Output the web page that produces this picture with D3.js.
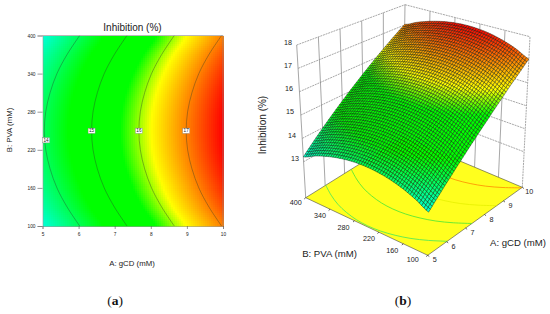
<!DOCTYPE html>
<html><head><meta charset="utf-8">
<script src="https://cdn.jsdelivr.net/npm/d3@7"></script>
<style>html,body{margin:0;background:#fff}svg{display:block}text{font-family:"Liberation Sans",Arial,sans-serif;fill:#222}</style>
</head><body><svg id="c" width="550" height="314"></svg>
<script>
const chartTitle = "Inhibition (%)";
const aTicks = [5,6,7,8,9,10];
const bTicks = [100,160,220,280,340,400];
const zTicks = [13,14,15,16,17,18];
// Response read along A at the centre of the B range
const aNodes = [5,6,7,8,9,10];
const zAlongA = [13.96,14.73,15.49,16.25,17.02,17.78];
// Fall in response away from the centre of the B range
const bNodes = [100,130,160,190,220,250,280,310,340,370,400];
const dropAlongB = [0.75,0.48,0.27,0.12,0.03,0,0.03,0.12,0.27,0.48,0.75];
// Contours: A position at each bNodes value
const contourLevels = [14,15,16,17];
const contour14 = [6.03,5.68,5.40,5.21,5.09,5.05,5.09,5.21,5.40,5.68,6.03];
const contour15 = [7.34,6.99,6.71,6.52,6.40,6.36,6.40,6.52,6.71,6.99,7.34];
const contour16 = [8.65,8.30,8.02,7.83,7.71,7.67,7.71,7.83,8.02,8.30,8.65];
const contour17 = [9.96,9.61,9.33,9.14,9.02,8.98,9.02,9.14,9.33,9.61,9.96];
const contours = [contour14,contour15,contour16,contour17];
const labelB = [235,250,250,250];

const svg = d3.select("#c");
const zOfA = d3.scaleLinear().domain(aNodes).range(zAlongA);
function dropOfB(b){ // smooth reading between bNodes (Catmull-Rom)
  const n=bNodes.length, t=(b-bNodes[0])/(bNodes[1]-bNodes[0]);
  const i=Math.max(0,Math.min(n-2,Math.floor(t))), f=t-i;
  const p=k=>dropAlongB[Math.max(0,Math.min(n-1,k))];
  const p0=p(i-1),p1=p(i),p2=p(i+1),p3=p(i+2);
  return .5*(2*p1+(p2-p0)*f+(2*p0-5*p1+4*p2-p3)*f*f+(3*p1-p0-3*p2+p3)*f*f*f);
}
const field=(a,b)=>zOfA(a)-dropOfB(b);
const color=d3.scaleLinear()
  .domain([13.1,14.5,15.6,16.25,17.78])
  .range(["#00ffe8","#00ff00","#00ff00","#ffff00","#ff0000"])
  .clamp(true);

/* ---------- (a) contour map ---------- */
const x=d3.scaleLinear().domain([5,10]).range([42.5,223]);
const y=d3.scaleLinear().domain([100,400]).range([226,35.5]);
const nx=90,ny=95;
const cols=d3.range(nx),rows=d3.range(ny);
const heat=svg.append("g").attr("shape-rendering","crispEdges");
rows.forEach(j=>{
  const b0=100+300*j/ny,b1=100+300*(j+1)/ny;
  heat.selectAll(null).data(cols).join("rect")
    .attr("x",i=>x(5+5*i/nx)).attr("width",(223-42.5)/nx+0.6)
    .attr("y",y(b1)).attr("height",y(b0)-y(b1)+0.6)
    .attr("fill",i=>color(field(5+5*(i+.5)/nx,(b0+b1)/2)));
});
const cLine=d3.line().x(d=>x(d[0])).y(d=>y(d[1])).curve(d3.curveCatmullRom);
contours.forEach(c=>{
  svg.append("path").attr("d",cLine(c.map((a,i)=>[a,bNodes[i]])))
    .attr("fill","none").attr("stroke","#2a3a2a").attr("stroke-width",0.55).attr("stroke-opacity",0.7);
});
const axA=d3.axisBottom(x).tickValues(aTicks).tickSize(3).tickPadding(4).tickFormat(d3.format("d"));
svg.append("g").attr("transform","translate(0,226)").call(axA)
 .call(g=>g.select(".domain").attr("stroke","#999").attr("stroke-width",.6))
 .call(g=>g.selectAll(".tick line").attr("stroke","#555").attr("stroke-width",.6))
 .call(g=>g.selectAll("text").attr("font-size",4.8).attr("fill","#333"));
const axB=d3.axisLeft(y).tickValues(bTicks).tickSize(5).tickPadding(2).tickFormat(d3.format("d"));
svg.append("g").attr("transform","translate(42.5,0)").call(axB)
 .call(g=>g.select(".domain").attr("stroke","#999").attr("stroke-width",.6))
 .call(g=>g.selectAll(".tick line").attr("stroke","#555").attr("stroke-width",.6))
 .call(g=>g.selectAll("text").attr("font-size",4.8).attr("fill","#333"));
svg.append("path").attr("d","M42.5,35.5H223V226").attr("fill","none").attr("stroke","#888").attr("stroke-width",.6);
contourLevels.forEach((lv,k)=>{
  const c=contours[k],bv=labelB[k];
  const av=d3.scaleLinear().domain(bNodes).range(c)(bv)+(k===0?0.03:0);
  const g=svg.append("g").attr("transform",`translate(${x(av)},${y(bv)})`);
  g.append("rect").attr("x",-3.5).attr("y",-2.6).attr("width",7).attr("height",5.2).attr("fill","#fff").attr("stroke","#888").attr("stroke-width",.4);
  g.append("text").attr("text-anchor","middle").attr("y",1.7).attr("font-size",4.6).text(lv);
});
svg.append("text").attr("x",132.5).attr("y",31).attr("text-anchor","middle").attr("font-size",10).text(chartTitle);
svg.append("text").attr("x",132).attr("y",266).attr("text-anchor","middle").attr("font-size",7.8).text("A: gCD (mM)");
svg.append("text").attr("transform","translate(12,130) rotate(-90)").attr("text-anchor","middle").attr("font-size",7.8).text("B: PVA (mM)");

/* ---------- (b) 3-D surface ---------- */
const floorZ=11.46;
const wOf=d3.scaleLinear().domain([floorZ,18]).range([0,1]);
const uOf=d3.scaleLinear().domain([5,10]).range([0,1]);
const vOf=d3.scaleLinear().domain([100,400]).range([0,1]);
// screen corners: [A low/high][B low/high]
const fl={a0b0:[427.7,255.3],a1b0:[522.3,187.3],a0b1:[305.7,197.7],a1b1:[403,137]};
const tp={a0b0:[431,94],a1b0:[530,36.7],a0b1:[296.7,45],a1b1:[405,4.7]};
const bil=(c,u,v,k)=>(1-u)*(1-v)*c.a0b0[k]+u*(1-v)*c.a1b0[k]+(1-u)*v*c.a0b1[k]+u*v*c.a1b1[k];
function P(a,b,z){
  const u=uOf(a),v=vOf(b),w=wOf(z);
  return [0,1].map(k=>bil(fl,u,v,k)*(1-w)+bil(tp,u,v,k)*w);
}
const lineP=d3.line();
const walls=svg.append("g").attr("fill","none").attr("stroke","#8a8a8a").attr("stroke-width",.75);
const seg=(g,p,q,dash)=>g.append("path").attr("d",lineP([p,q])).attr("stroke-dasharray",dash?"2 .8":null);
// back walls
zTicks.forEach(z=>{
  seg(walls,P(5,400,z),P(10,400,z),true);
  seg(walls,P(10,400,z),P(10,100,z),true);
});
aTicks.slice(1,-1).forEach(a=>seg(walls,P(a,400,floorZ),P(a,400,18),false));
bTicks.slice(1,-1).forEach(b=>seg(walls,P(10,b,floorZ),P(10,b,18),false));
seg(walls,P(5,400,floorZ),P(5,400,18));
seg(walls,P(10,400,floorZ),P(10,400,18));
seg(walls,P(10,100,floorZ),P(10,100,18),true);
// floor
const floorPts=[P(5,100,floorZ),P(10,100,floorZ),P(10,400,floorZ),P(5,400,floorZ)];
svg.append("path").attr("d",lineP(floorPts)+"Z").attr("fill","#ffff1e").attr("stroke","#444").attr("stroke-width",.6);
const floorCol=["#45e65a","#45e635","#e6f000","#ff8a00"];
contours.forEach((c,k)=>{
  svg.append("path").attr("d",d3.line().curve(d3.curveCatmullRom)(c.map((a,i)=>P(Math.min(a,10),bNodes[i],floorZ))))
   .attr("fill","none").attr("stroke",floorCol[k]).attr("stroke-width",.8);
});
// ticks on floor edges
bTicks.forEach(b=>{const p=P(5,b,floorZ);svg.append("path").attr("d",lineP([p,[p[0]-1.5,p[1]+1.3]])).attr("stroke","#222").attr("stroke-width",.7);});
aTicks.forEach(a=>{const p=P(a,100,floorZ);svg.append("path").attr("d",lineP([p,[p[0]+1.6,p[1]+1.2]])).attr("stroke","#222").attr("stroke-width",.7);});
// surface mesh, far cells first
const N=54, cells=[];
for(let i=N-1;i>=0;i--)for(let j=N-1;j>=0;j--)cells.push([i,j]);
const aS=i=>5+5*i/N,bS=j=>100+300*j/N;
svg.append("g").attr("stroke","#061206").attr("stroke-width",.4)
 .selectAll("path").data(cells).join("path")
 .attr("d",([i,j])=>lineP([[i,j],[i+1,j],[i+1,j+1],[i,j+1]].map(([p,q])=>P(aS(p),bS(q),field(aS(p),bS(q)))))+"Z")
 .attr("fill",([i,j])=>color(field(aS(i+.5),bS(j+.5))));
// tick labels
const tl=(x0,y0,t,anchor)=>svg.append("text").attr("x",x0).attr("y",y0).attr("text-anchor",anchor||"middle").attr("font-size",7.2).attr("fill","#333").text(t);
const zOff=[[295,160.5],[292,137.5],[290,114],[289,91],[288,68],[288,45]];
zTicks.forEach((z,i)=>tl(zOff[i][0],zOff[i][1],z));
const bOff={400:[-10,7],340:[-10,9],280:[-11,9],220:[-10,9],160:[-11,9],100:[-15,7]};
bTicks.forEach(b=>{const p=P(5,b,floorZ);tl(p[0]+bOff[b][0],p[1]+bOff[b][1],b);});
aTicks.forEach(a=>{const p=P(a,100,floorZ);tl(p[0]+7,p[1]+7,a);});
svg.append("text").attr("x",329.5).attr("y",257).attr("text-anchor","middle").attr("font-size",9.6).text("B: PVA (mM)");
svg.append("text").attr("x",518).attr("y",246).attr("text-anchor","middle").attr("font-size",9.6).text("A: gCD (mM)");
svg.append("text").attr("transform","translate(266,125) rotate(-90)").attr("text-anchor","middle").attr("font-size",10).text(chartTitle);
// panel letters
[["a",115],["b",403]].forEach(([l,px])=>{
  const t=svg.append("text").attr("x",px).attr("y",305).attr("text-anchor","middle").attr("font-size",13.5).style("font-family","'Liberation Serif',serif").style("fill","#111");
  t.append("tspan").text("(");t.append("tspan").attr("font-weight","bold").text(l);t.append("tspan").text(")");
});
</script></body></html>
